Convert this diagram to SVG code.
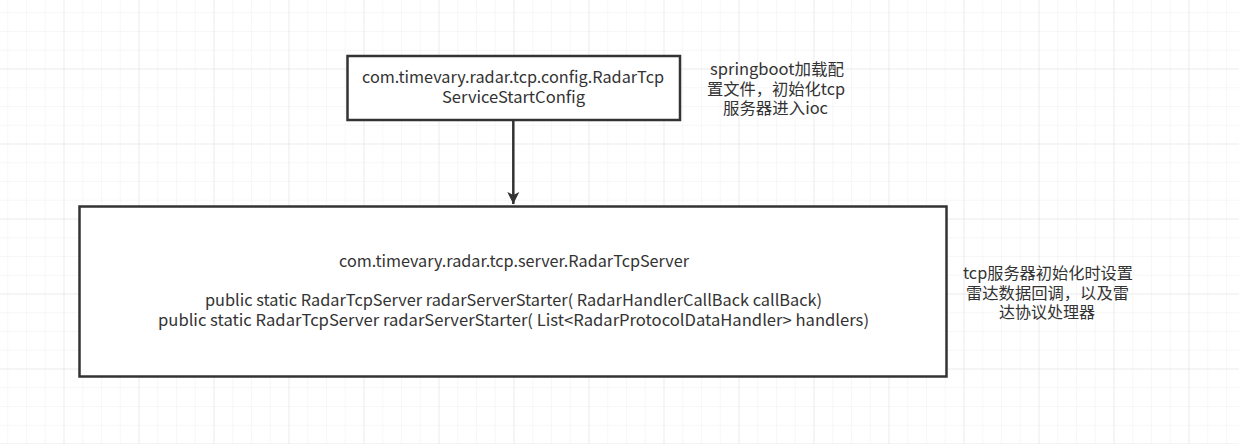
<svg xmlns="http://www.w3.org/2000/svg" width="1239" height="444" viewBox="0 0 1239 444">
<defs>
<pattern id="minor" x="7.25" y="12.25" width="18.75" height="18.75" patternUnits="userSpaceOnUse">
<path d="M0 0H18.75M0 0V18.75" fill="none" stroke="#f0f0f0" stroke-width="1"/>
</pattern>
<pattern id="major" x="63.5" y="68.5" width="75" height="75" patternUnits="userSpaceOnUse">
<path d="M0 0H75M0 0V75" fill="none" stroke="#e2e2e2" stroke-width="1"/>
</pattern>
<marker id="arrow" viewBox="0 0 12 18" refX="12" refY="9" markerWidth="12" markerHeight="18" markerUnits="userSpaceOnUse" orient="auto">
<path d="M0 3L12 9L0 15L3 9Z" fill="#333"/>
</marker>
</defs>
<style>
.box{fill:#fff;stroke:#333;stroke-width:2.5}
.t{font-family:"Noto Sans CJK SC","Noto Sans",sans-serif;font-size:16px;fill:#333;text-anchor:middle}
</style>
<rect width="1239" height="444" fill="#fff"/>
<rect width="1239" height="444" fill="url(#minor)"/>
<rect width="1239" height="444" fill="url(#major)"/>
<g id="connectors">
<path d="M513.3 121V204" fill="none" stroke="#333" stroke-width="2.5" marker-end="url(#arrow)"/>
</g>
<g id="config">
<rect class="box" x="347.5" y="56" width="332.5" height="64"/>
<text class="t" x="513" y="83" textLength="302" lengthAdjust="spacingAndGlyphs">com.timevary.radar.tcp.config.RadarTcp</text>
<text class="t" x="513.5" y="103" textLength="143" lengthAdjust="spacingAndGlyphs">ServiceStartConfig</text>
</g>
<g id="server">
<rect class="box" x="79.5" y="206.5" width="867" height="170"/>
<text class="t" x="514" y="267" textLength="350" lengthAdjust="spacingAndGlyphs">com.timevary.radar.tcp.server.RadarTcpServer</text>
<text class="t" x="513.5" y="306" textLength="617" lengthAdjust="spacingAndGlyphs">public static RadarTcpServer radarServerStarter( RadarHandlerCallBack callBack)</text>
<text class="t" x="513.5" y="325.5" textLength="711" lengthAdjust="spacingAndGlyphs">public static RadarTcpServer radarServerStarter( List&lt;RadarProtocolDataHandler&gt; handlers)</text>
</g>
<g id="note1">
<text class="t" x="777" y="75" textLength="134" lengthAdjust="spacingAndGlyphs">springboot加载配</text>
<text class="t" x="776" y="94.5" textLength="138" lengthAdjust="spacingAndGlyphs">置文件，初始化tcp</text>
<text class="t" x="775.5" y="114" textLength="105" lengthAdjust="spacingAndGlyphs">服务器进入ioc</text>
</g>
<g id="note2">
<text class="t" x="1048" y="279" textLength="170" lengthAdjust="spacingAndGlyphs">tcp服务器初始化时设置</text>
<text class="t" x="1047.5" y="298.5" textLength="163" lengthAdjust="spacingAndGlyphs">雷达数据回调，以及雷</text>
<text class="t" x="1047" y="318" textLength="96" lengthAdjust="spacingAndGlyphs">达协议处理器</text>
</g>
</svg>
